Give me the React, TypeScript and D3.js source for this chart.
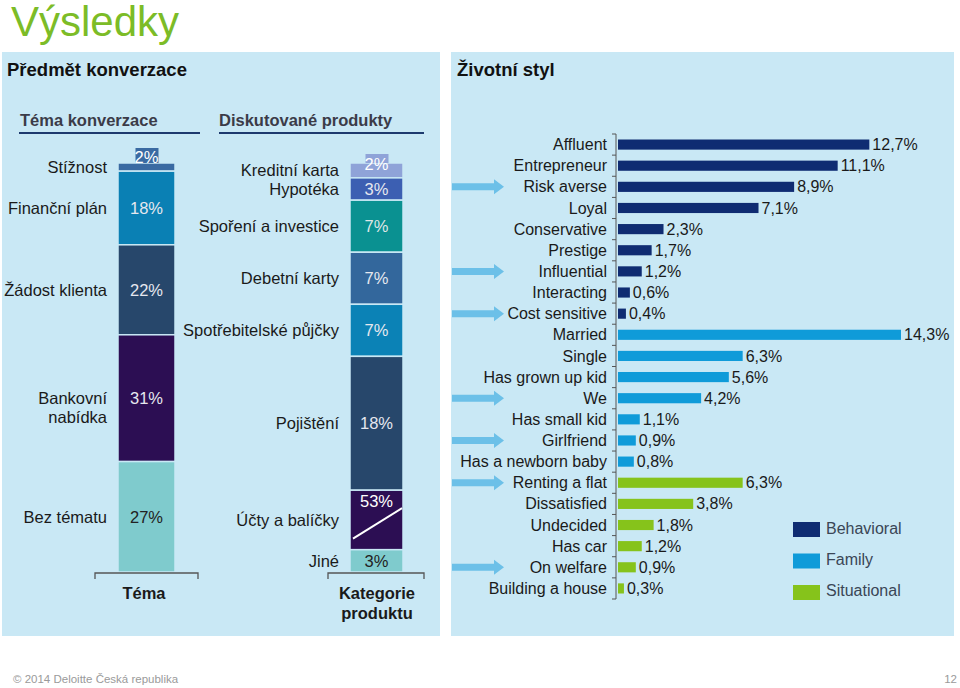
import React from "react";
import * as d3 from "d3";

// ---- Data ----
const temaLabels = ["Stížnost", "Finanční plán", "Žádost klienta", "Bankovní\nnabídka", "Bez tématu"];
const temaValues = [2, 18, 22, 31, 27];
const temaColors = ["#3a6aa2", "#0a80b4", "#27476b", "#2c0e53", "#7fcbcd"];
const temaTextColors = ["#ffffff", "#e6e8ef", "#e6e8ef", "#e6e8ef", "#222222"];

const produktLabels = ["Kreditní karta", "Hypotéka", "Spoření a investice", "Debetní karty", "Spotřebitelské půjčky", "Pojištění", "Účty a balíčky", "Jiné"];
const produktValues = [2, 3, 7, 7, 7, 18, 53, 3];
const produktBroken = [false, false, false, false, false, false, true, false];
const produktColors = ["#8fa3d8", "#3c5fb2", "#0a9191", "#33679c", "#0b82b6", "#27476b", "#2c0e53", "#7fcbcd"];
const produktTextColors = ["#ffffff", "#e6e8ef", "#dfe6e6", "#e6e8ef", "#e6e8ef", "#e6e8ef", "#ffffff", "#222222"];

const styleCategories = [
  "Affluent", "Entrepreneur", "Risk averse", "Loyal", "Conservative", "Prestige", "Influential", "Interacting", "Cost sensitive",
  "Married", "Single", "Has grown up kid", "We", "Has small kid", "Girlfriend", "Has a newborn baby",
  "Renting a flat", "Dissatisfied", "Undecided", "Has car", "On welfare", "Building a house",
];
const styleValues = [12.7, 11.1, 8.9, 7.1, 2.3, 1.7, 1.2, 0.6, 0.4, 14.3, 6.3, 5.6, 4.2, 1.1, 0.9, 0.8, 6.3, 3.8, 1.8, 1.2, 0.9, 0.3];
const styleGroups = [
  "Behavioral", "Behavioral", "Behavioral", "Behavioral", "Behavioral", "Behavioral", "Behavioral", "Behavioral", "Behavioral",
  "Family", "Family", "Family", "Family", "Family", "Family", "Family",
  "Situational", "Situational", "Situational", "Situational", "Situational", "Situational",
];
const arrowRows = ["Risk averse", "Influential", "Cost sensitive", "We", "Girlfriend", "Renting a flat", "On welfare"];
const groupNames = ["Behavioral", "Family", "Situational"];
const groupColors = ["#0f2c72", "#0f9bd9", "#86c31b"];

const FONT = "'Liberation Sans', Arial, Helvetica, sans-serif";
const PANEL = "#c9e8f5";

function Stack(props: {
  labels: string[]; values: number[]; colors: string[]; textColors: string[]; broken?: boolean[];
  x: number; w: number; top: number; bottom: number; labelX: number; boxFirst?: boolean;
}) {
  const { labels, values, colors, textColors, broken, x, w, top, bottom, labelX } = props;
  const disp = values.map((v, i) => (broken && broken[i] ? 8 : v));
  const total = d3.sum(disp);
  const y = d3.scaleLinear().domain([0, total]).range([top, bottom]);
  let cum = 0;
  const segs = disp.map((v, i) => {
    const s = { y0: y(cum), y1: y(cum + v), i };
    cum += v;
    return s;
  });
  const cx = x + w / 2;
  return (
    <g>
      {segs.map((s) => (
        <rect key={"r" + s.i} x={x} y={s.y0} width={w} height={s.y1 - s.y0} fill={colors[s.i]} stroke={PANEL} strokeWidth={1.5} />
      ))}
      {segs.map((s) => {
        const i = s.i;
        const mid = (s.y0 + s.y1) / 2;
        const isBroken = broken && broken[i];
        const small = s.y1 - s.y0 < 16;
        const vy = isBroken ? s.y0 + 11 : small ? s.y0 - 6 + (i === 0 && props.boxFirst ? 0 : 7) : mid;
        const lines = labels[i].split("\n");
        return (
          <g key={"t" + i}>
            {small && (
              <rect x={cx - 11} y={s.y0 - (props.boxFirst ? 15 : 9)} width={23} height={props.boxFirst ? 15 : 9} fill={colors[i]} />
            )}
            <text x={cx} y={vy} dy="0.35em" textAnchor="middle" fontSize={16.5} fill={textColors[i]} fontFamily={FONT}>
              {values[i] + "%"}
            </text>
            {isBroken && (
              <line x1={x + 3} y1={s.y1 - 11} x2={x + w - 1} y2={s.y0 + 18} stroke="#ffffff" strokeWidth={2} />
            )}
            {lines.map((ln, k) => (
              <text key={k} x={labelX} y={mid + k * 19} dy="0.35em" textAnchor="end" fontSize={16.5} fill="#1a1a1a" fontFamily={FONT}>
                {ln}
              </text>
            ))}
          </g>
        );
      })}
    </g>
  );
}

function Bracket({ x1, x2, y }: { x1: number; x2: number; y: number }) {
  return (
    <path d={`M${x1},${y + 6}V${y}H${x2}V${y + 6}`} fill="none" stroke="#555555" strokeWidth={1.3} />
  );
}

export default function App() {
  const xS = d3.scaleLinear().domain([0, 14.3]).range([618, 901]);
  const yS = d3.scaleBand<string>().domain(styleCategories).range([134, 599]).paddingInner(0.52).paddingOuter(0.26);
  const step = yS.step();
  const color = d3.scaleOrdinal<string, string>().domain(groupNames).range(groupColors);
  const fmt = (v: number) => d3.format(".1f")(v).replace(".", ",") + "%";

  return (
    <svg width={960} height={688} style={{ position: "absolute", left: 0, top: 0, background: "#ffffff" }} fontFamily={FONT}>
      <rect x={0} y={0} width={960} height={688} fill="#ffffff" />
      <text x={11} y={36} fontSize={42} fill="#7cbc27" fontFamily={FONT}>Výsledky</text>

      {/* Left panel */}
      <rect x={2} y={52} width={438} height={584} fill={PANEL} />
      <text x={7} y={76} fontSize={18.5} fontWeight="bold" fill="#111111">Předmět konverzace</text>
      <text x={20} y={126} fontSize={16.5} fontWeight="bold" fill="#3b3b48">Téma konverzace</text>
      <line x1={19} x2={200} y1={133} y2={133} stroke="#1d3a6e" strokeWidth={2} />
      <text x={219} y={126} fontSize={16.5} fontWeight="bold" fill="#3b3b48">Diskutované produkty</text>
      <line x1={219} x2={424} y1={133} y2={133} stroke="#1d3a6e" strokeWidth={2} />

      <Stack labels={temaLabels} values={temaValues} colors={temaColors} textColors={temaTextColors}
        x={118} w={57} top={163} bottom={572} labelX={107} boxFirst={true} />
      <Stack labels={produktLabels} values={produktValues} colors={produktColors} textColors={produktTextColors}
        broken={produktBroken} x={350} w={53} top={163} bottom={572} labelX={339} />

      <Bracket x1={95} x2={198} y={573} />
      <Bracket x1={328} x2={424} y={573} />
      <text x={144} y={593} dy="0.35em" textAnchor="middle" fontSize={16.5} fontWeight="bold" fill="#1a1a1a">Téma</text>
      <text x={377} y={593} dy="0.35em" textAnchor="middle" fontSize={16.5} fontWeight="bold" fill="#1a1a1a">Kategorie</text>
      <text x={377} y={613} dy="0.35em" textAnchor="middle" fontSize={16.5} fontWeight="bold" fill="#1a1a1a">produktu</text>

      {/* Right panel */}
      <rect x={451} y={52} width={503} height={584} fill={PANEL} />
      <text x={457} y={76} fontSize={18.5} fontWeight="bold" fill="#111111">Životní styl</text>

      {/* axis */}
      <line x1={616} x2={616} y1={134} y2={599} stroke="#555555" strokeWidth={1} />
      {d3.range(styleCategories.length + 1).map((i) => (
        <line key={"tk" + i} x1={612} x2={616} y1={134 + i * step} y2={134 + i * step} stroke="#555555" strokeWidth={1} />
      ))}

      {styleCategories.map((c, i) => {
        const yc = (yS(c) as number) + yS.bandwidth() / 2;
        return (
          <g key={c}>
            <rect x={xS(0)} y={yS(c)} width={xS(styleValues[i]) - xS(0)} height={yS.bandwidth()} fill={color(styleGroups[i])} />
            <text x={607} y={yc} dy="0.35em" textAnchor="end" fontSize={16} fill="#1a1a1a">{c}</text>
            <text x={xS(styleValues[i]) + 3} y={yc} dy="0.35em" fontSize={16} fill="#1a1a1a">{fmt(styleValues[i])}</text>
            {arrowRows.includes(c) && (
              <path d={`M452,${yc - 3.5}H494V${yc - 7.5}L504,${yc}L494,${yc + 7.5}V${yc + 3.5}H452Z`} fill="#6cc0e8" />
            )}
          </g>
        );
      })}

      {/* legend */}
      {groupNames.map((g, i) => (
        <g key={g}>
          <rect x={793} y={522 + i * 31.5} width={27} height={15} fill={color(g)} />
          <text x={826} y={528 + i * 31} dy="0.35em" fontSize={16} fill="#3a4656">{g}</text>
        </g>
      ))}

      {/* footer */}
      <text x={13} y={683} fontSize={11.5} fill="#9a9a9a">© 2014 Deloitte Česká republika</text>
      <text x={957} y={683} textAnchor="end" fontSize={11.5} fill="#9a9a9a">12</text>
    </svg>
  );
}
